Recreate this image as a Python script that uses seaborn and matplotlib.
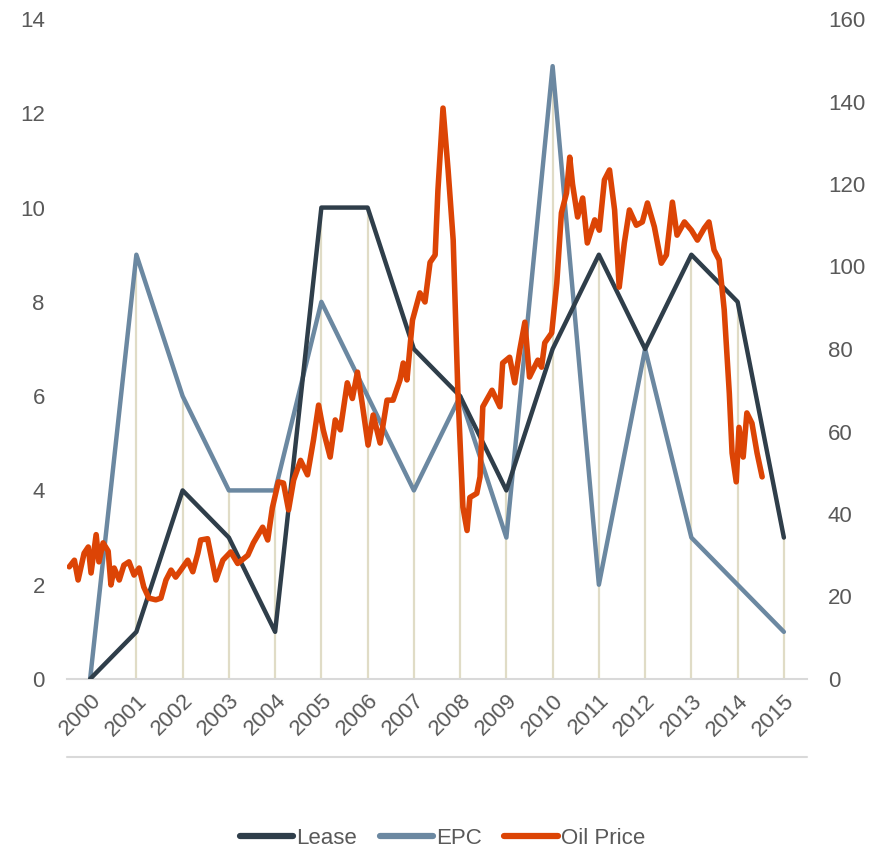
import matplotlib
matplotlib.use("Agg")
import matplotlib.pyplot as plt
from matplotlib.lines import Line2D
import seaborn as sb
import numpy as np
import pandas as pd

##########---------------- data ----------------##########
years = list(range(2000, 2016))
lease = [0, 1, 4, 3, 1, 10, 10, 7, 6, 4, 7, 9, 7, 9, 8, 3]
epc = [0, 9, 6, 4, 4, 8, 6, 4, 6, 3, 13, 2, 7, 3, 2, 1]

# oil price (right axis), position in year units on the same category axis
oil_x = [1999.55, 1999.66, 1999.74, 1999.87, 1999.96, 2000.02, 2000.13, 2000.19,
         2000.28, 2000.39, 2000.45, 2000.52, 2000.63, 2000.73, 2000.84, 2000.95,
         2001.06, 2001.16, 2001.27, 2001.42, 2001.53, 2001.64, 2001.75, 2001.85,
         2001.96, 2002.11, 2002.22, 2002.33, 2002.39, 2002.54, 2002.72, 2002.87,
         2003.04, 2003.19, 2003.41, 2003.53, 2003.73, 2003.84, 2003.94, 2004.07,
         2004.18, 2004.29, 2004.40, 2004.55, 2004.70, 2004.83, 2004.94, 2005.04,
         2005.19, 2005.30, 2005.41, 2005.56, 2005.67, 2005.78, 2005.88, 2006.01,
         2006.12, 2006.27, 2006.42, 2006.55, 2006.70, 2006.77, 2006.85, 2006.97,
         2007.13, 2007.24, 2007.35, 2007.46, 2007.52, 2007.63, 2007.74, 2007.85,
         2007.95, 2008.06, 2008.15, 2008.21, 2008.36, 2008.43, 2008.49, 2008.69,
         2008.86, 2008.92, 2009.07, 2009.18, 2009.29, 2009.40, 2009.50, 2009.68,
         2009.76, 2009.83, 2009.98, 2010.09, 2010.19, 2010.30, 2010.37, 2010.43,
         2010.54, 2010.65, 2010.75, 2010.91, 2011.01, 2011.12, 2011.23, 2011.34,
         2011.44, 2011.55, 2011.66, 2011.81, 2011.94, 2012.05, 2012.20, 2012.35,
         2012.46, 2012.59, 2012.69, 2012.85, 2013.00, 2013.13, 2013.28, 2013.38,
         2013.49, 2013.60, 2013.71, 2013.82, 2013.88, 2013.97, 2014.03, 2014.12,
         2014.20, 2014.31, 2014.42, 2014.53]
oil_price = [27.2, 28.8, 24.0, 30.5, 32.0, 25.7, 35.0, 28.4,
             33.0, 31.0, 22.8, 26.9, 24.0, 27.6, 28.4, 25.2,
             26.9, 22.3, 19.6, 19.2, 19.6, 24.0, 26.4, 24.7,
             26.4, 28.8, 26.0, 30.5, 33.7, 34.0, 24.0, 28.8,
             30.8, 28.0, 30.0, 33.0, 36.8, 33.7, 41.5, 47.8,
             47.5, 41.0, 48.2, 53.0, 49.5, 58.0, 66.4, 60.4,
             53.8, 62.8, 60.4, 71.8, 68.0, 74.4, 67.0, 56.7,
             64.0, 57.2, 67.6, 67.6, 72.5, 76.6, 72.5, 87.0,
             93.6, 91.4, 101.0, 102.8, 118.5, 138.4, 123.4, 106.4,
             70.0, 41.7, 36.0, 44.0, 45.0, 49.0, 66.0, 70.0,
             66.0, 76.6, 78.0, 71.8, 79.8, 86.5, 73.2, 77.3,
             75.6, 81.5, 83.9, 96.0, 113.0, 117.8, 126.5, 120.0,
             112.0, 116.6, 105.7, 111.3, 108.8, 121.0, 123.4, 113.7,
             95.0, 105.7, 113.7, 110.0, 110.8, 115.4, 109.6, 100.8,
             102.8, 115.6, 107.6, 110.8, 108.8, 106.4, 109.3, 110.8,
             104.0, 101.6, 89.5, 69.3, 54.8, 47.8, 61.0, 53.8,
             64.5, 62.0, 54.8, 49.0]

c_lease = "#2f3e4a"
c_epc = "#6b88a1"
c_oil = "#dc4405"
c_drop = "#e0dcc6"
c_text = "#595959"
c_axis = "#d9d9d9"

df = pd.DataFrame({"year": years, "Lease": lease, "EPC": epc})
oil = pd.DataFrame({"x": oil_x, "price": oil_price})

sb.set_style("white")
plt.rcParams['font.family'] = ['Liberation Sans', 'DejaVu Sans']
plt.rcParams['lines.solid_capstyle'] = 'round'
plt.rcParams['lines.solid_joinstyle'] = 'round'

fig = plt.figure(figsize=(8.85, 8.49), dpi=100)
ax = fig.add_axes([67/885, 1-679/849, 740/885, 660/849])

# drop lines up to the higher of the two series
ax.vlines(df["year"], 0, np.maximum(df["Lease"], df["EPC"]), color=c_drop, lw=1.6, zorder=1)
sb.lineplot(data=df, x="year", y="Lease", ax=ax, color=c_lease, lw=3.2, label="Lease", legend=False, zorder=3)
sb.lineplot(data=df, x="year", y="EPC", ax=ax, color=c_epc, lw=3.2, label="EPC", legend=False, zorder=2)

ax2 = ax.twinx()
sb.lineplot(data=oil, x="x", y="price", ax=ax2, color=c_oil, lw=4.0, label="Oil Price", legend=False)

ax.set_xlim(1999.5, 2015.5)
ax.set_ylim(0, 14)
ax2.set_ylim(0, 160)
ax.set_yticks(np.arange(0, 15, 2))
ax2.set_yticks(np.arange(0, 161, 20))
ax.set_xticks(years)
ax.set_xticklabels([str(y) for y in years], rotation=45, ha="right", rotation_mode="anchor")
for a in (ax, ax2):
    a.set_xlabel("")
    a.set_ylabel("")
    for s in a.spines.values():
        s.set_visible(False)
    a.tick_params(length=0, labelsize=16, labelcolor=c_text)
ax.spines["bottom"].set_visible(True)
ax.spines["bottom"].set_color(c_axis)
ax.spines["bottom"].set_linewidth(1.5)
ax.tick_params(axis="y", pad=16)
ax2.tick_params(axis="y", pad=15)
ax.tick_params(axis="x", pad=8)
ax.grid(False)
ax2.grid(False)

# secondary (hidden) horizontal axis line under the labels
fig.add_artist(Line2D([67/885, 807/885], [1-757/849, 1-757/849], color=c_axis, lw=1.5))

h1, l1 = ax.get_legend_handles_labels()
h2, l2 = ax2.get_legend_handles_labels()
leg = fig.legend(h1+h2, l1+l2, loc="center", bbox_to_anchor=(0.5, 1-838/849), ncol=3,
                 frameon=False, fontsize=16, labelcolor=c_text, handlelength=2.4,
                 handletextpad=0.15, columnspacing=1.0)
for ln in leg.get_lines():
    ln.set_linewidth(4.5)

plt.savefig("out.png", dpi=100)
plt.close()
